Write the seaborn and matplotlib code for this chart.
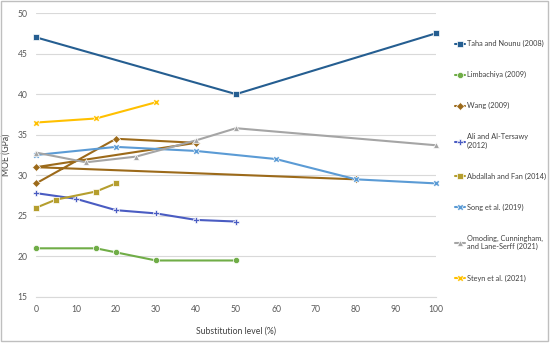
import matplotlib
matplotlib.use("Agg")
import matplotlib.pyplot as plt
import seaborn as sns
import pandas as pd
from matplotlib.patches import Rectangle

# data
taha_x = [0, 50, 100]
taha_y = [47.0, 40.0, 47.5]
limb_x = [0, 15, 20, 30, 50]
limb_y = [21.0, 21.0, 20.5, 19.5, 19.5]
# Wang is one series, points in the order they are joined
wang_x = [0, 20, 40, 0, 80]
wang_y = [29.0, 34.5, 34.0, 31.0, 29.5]
ali_x = [0, 10, 20, 30, 40, 50]
ali_y = [27.8, 27.1, 25.7, 25.3, 24.5, 24.3]
abd_x = [0, 5, 15, 20]
abd_y = [26.0, 27.0, 28.0, 29.0]
song_x = [0, 20, 40, 60, 80, 100]
song_y = [32.5, 33.5, 33.0, 32.0, 29.5, 29.0]
omo_x = [0, 12.5, 25, 40, 50, 100]
omo_y = [32.8, 31.6, 32.3, 34.3, 35.8, 33.7]
steyn_x = [0, 15, 30]
steyn_y = [36.5, 37.0, 39.0]

names = ["Taha and Nounu (2008)", "Limbachiya (2009)", "Wang (2009)",
         "Ali and Al-Tersawy\n(2012)", "Abdallah and Fan (2014)",
         "Song et al. (2019)", "Omoding, Cunningham,\nand Lane-Serff (2021)",
         "Steyn et al. (2021)"]
xs = [taha_x, limb_x, wang_x, ali_x, abd_x, song_x, omo_x, steyn_x]
ys = [taha_y, limb_y, wang_y, ali_y, abd_y, song_y, omo_y, steyn_y]

rows = []
for n, xx, yy in zip(names, xs, ys):
    for a, b in zip(xx, yy):
        rows.append({"study": n, "level": a, "moe": b})
df = pd.DataFrame(rows)

colors = ["#255E91", "#70AD47", "#9C6A1A", "#4A5CC2",
          "#B59E2E", "#5B9BD5", "#A5A5A5", "#FFC000"]
marks = ["s", "o", "D", "P", "s", "X", "^", "X"]

sns.set_style("white")
plt.rcParams["font.family"] = ["Lato", "DejaVu Sans"]
fs = 6.2

fig = plt.figure(figsize=(5.5, 3.45), dpi=100)
ax = fig.add_axes([36 / 550, 1 - 297 / 345, 400 / 550, 284 / 345])

sns.lineplot(data=df, x="level", y="moe", hue="study", style="study",
             palette=dict(zip(names, colors)), markers=dict(zip(names, marks)),
             dashes=False, sort=False, estimator=None, linewidth=1.5,
             markersize=4.5, markeredgewidth=0.5, ax=ax)

for ln in ax.lines:
    ln.set_clip_on(False)

ax.set_xlim(0, 100)
ax.set_ylim(15, 50)
ax.set_xticks(range(0, 101, 10))
ax.set_yticks(range(15, 51, 5))
ax.grid(axis="y", color="#D9D9D9", linewidth=0.8)
ax.set_axisbelow(True)
for s in ["left", "right", "top"]:
    ax.spines[s].set_visible(False)
ax.spines["bottom"].set_color("#D9D9D9")
ax.tick_params(axis="both", length=0, labelsize=fs, colors="#595959", pad=6)
ax.set_xlabel("Substitution level (%)", fontsize=fs, color="#404040", labelpad=9)
ax.set_ylabel("MOE (GPa)", fontsize=fs, color="#404040", labelpad=5)

handles, labels = ax.get_legend_handles_labels()
leg = ax.legend(handles, labels, loc="upper left", bbox_to_anchor=(1.04, 0.915),
                frameon=False, fontsize=5.3, labelspacing=3.25, handlelength=1.4,
                handletextpad=0.25, borderaxespad=0)
for t in leg.get_texts():
    t.set_color("#404040")

fig.patches.append(Rectangle((0.002, 0.012), 0.995, 0.985, transform=fig.transFigure,
                             fill=False, edgecolor="#BFBFBF", linewidth=1))

fig.savefig("out.png", dpi=100)
